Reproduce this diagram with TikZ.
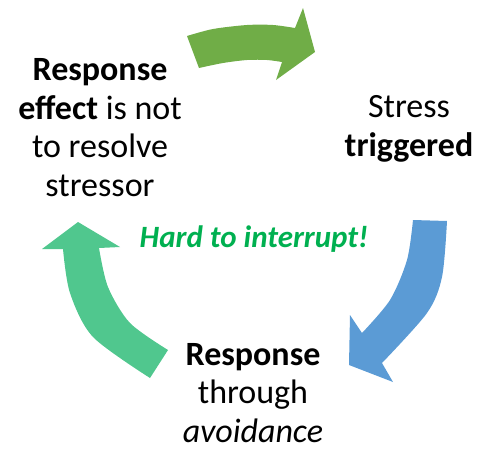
\documentclass[tikz,border=0pt]{standalone}
\usepackage{fontspec}
\setmainfont{Carlito}
\definecolor{topgreen}{HTML}{70AD47}
\definecolor{sideblue}{HTML}{5B9BD5}
\definecolor{sideteal}{HTML}{50C78E}
\definecolor{hardgreen}{HTML}{00B050}
\begin{document}
\begin{tikzpicture}[x=1pt,y=-1pt,
  lbl/.style={align=center,inner sep=0pt,anchor=base,font=\fontsize{34}{38.5}\selectfont},
  hard/.style={inner sep=0pt,anchor=base,text=hardgreen,font=\fontsize{31}{34}\selectfont\bfseries\itshape}]
\useasboundingbox (0,0) rectangle (480,448);
% top green arrow
\fill[topgreen] (187,36) -- plot[smooth] coordinates {(187,36) (213,29) (247,25) (273,25) (295,28)}
  -- (303,8) -- (315,52) -- (276,80) -- (282,62)
  -- plot[smooth] coordinates {(282,62) (267,60) (247,60) (223,63) (199,68)} -- cycle;
% right blue arrow
\fill[sideblue] (413,220) -- (447,221)
  -- plot[smooth] coordinates {(447,221) (442,277) (427,313) (382,363)}
  -- (393,382) -- (349,365) -- (350,315) -- (362,333)
  -- plot[smooth] coordinates {(362,333) (390,300) (407,260) (413,220)} -- cycle;
% left teal arrow
\fill[sideteal] (168,350)
  -- plot[smooth] coordinates {(168,350) (130,323) (108,287) (99,248)}
  -- (120,247) -- (78,222) -- (42,249) -- (63,249)
  -- plot[smooth] coordinates {(63,249) (70,293) (93,337) (150,378)} -- cycle;
\node[lbl] (effect) at (100,196) {\textbf{Response}\\\textbf{effect} is not\\to resolve\\stressor};
\node[lbl] (stress) at (409,156) {Stress\\\textbf{triggered}};
\node[lbl] (response) at (253,442) {\textbf{Response}\\through\\\textit{avoidance}};
\node[hard] (hard) at (254,247) {Hard to interrupt!};
\end{tikzpicture}
\end{document}
